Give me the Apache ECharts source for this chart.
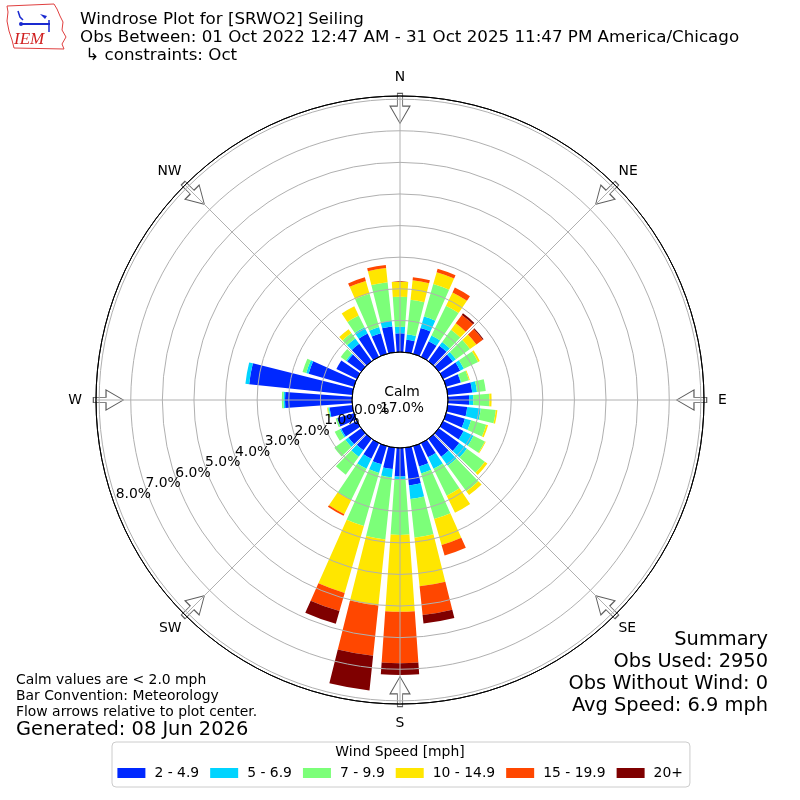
<!DOCTYPE html>
<html>
<head>
<meta charset="utf-8">
<script src="https://cdn.jsdelivr.net/npm/echarts@6/dist/echarts.min.js"></script>
<style>
html,body{margin:0;padding:0;background:#fff;}
#chart{width:800px;height:800px;}
</style>
</head>
<body>
<div id="chart"></div>
<script>
// Directions (degrees, meteorological convention)
var directions = [0,10,20,30,40,50,60,70,80,90,100,110,120,130,140,150,160,170,180,190,200,210,220,230,240,250,260,270,280,290,300,310,320,330,340,350];
// Speed bins and colours
var speedBins = ['2 - 4.9','5 - 6.9','7 - 9.9','10 - 14.9','15 - 19.9','20+'];
var binColors = ['#0028ff','#00d4ff','#7cff79','#ffe600','#ff4700','#7f0000'];
// Frequencies (%) per direction for each speed bin
var bin2to5 = [0.59,0.40,0.85,0.55,0.60,0.55,0.60,0.48,0.78,0.67,0.62,0.62,0.72,0.80,0.70,0.50,0.67,1.20,0.90,0.68,0.60,0.55,0.45,0.50,0.55,0.55,0.72,2.12,3.28,1.49,0.72,0.55,0.68,0.82,0.68,0.82];
var bin5to7 = [0.21,0.17,0.38,0.20,0.15,0.12,0.13,0.02,0.15,0.13,0.43,0.20,0.35,0.30,0.35,0.40,0.23,0.43,0.10,0.26,0.28,0.35,0.25,0.12,0.05,0.00,0.03,0.05,0.12,0.08,0.00,0.05,0.21,0.22,0.20,0.18];
var bin7to10 = [0.95,1.10,1.07,1.05,0.48,0.55,0.50,0.25,0.28,0.51,0.48,0.50,0.40,0.70,1.00,0.95,1.50,1.23,1.75,1.98,1.75,1.10,0.70,0.43,0.18,0.05,0.03,0.05,0.00,0.12,0.00,0.20,0.21,0.42,1.10,1.23];
var bin10to15 = [0.47,0.62,0.39,0.47,0.25,0.25,0.06,0.03,0.00,0.07,0.05,0.06,0.03,0.10,0.15,0.60,0.85,1.55,2.43,2.10,2.20,0.50,0.00,0.00,0.00,0.00,0.02,0.00,0.00,0.00,0.00,0.00,0.15,0.32,0.42,0.45];
var bin15to20 = [0.00,0.10,0.11,0.17,0.33,0.25,0.00,0.00,0.00,0.00,0.00,0.00,0.00,0.00,0.00,0.00,0.35,0.91,1.63,1.60,0.60,0.06,0.00,0.00,0.00,0.00,0.00,0.00,0.00,0.00,0.00,0.00,0.00,0.00,0.12,0.10];
var bin20plus = [0,0,0,0,0.06,0.03,0,0,0,0,0,0,0,0,0,0,0,0.27,0.37,1.10,0.42,0,0,0,0,0,0,0,0,0,0,0,0,0,0,0];
var binData = [bin2to5, bin5to7, bin7to10, bin10to15, bin15to20, bin20plus];
// Axis tick labels
var compassLabels = ['N','NE','E','SE','S','SW','W','NW'];
var compassRich = ['n','dn','e','ds','s','ds','w','dn'];
var compassAngles = [0,45,90,135,180,225,270,315];
var radialMax = 8.1;
var calmPct = '17.0%';

var chart = echarts.init(document.getElementById('chart'), null, {renderer:'canvas'});
var FONT = 'DejaVu Sans';
var GRID = '#b0b0b0';
var TICKFS = 13.9;
var PX_PER_PCT = 256 / radialMax;

var series = speedBins.map(function(name, i){
  return {
    type:'bar', name:name, coordinateSystem:'polar', polarIndex:0,
    stack:'wind', data:binData[i], barCategoryGap:'20%',
    itemStyle:{color:binColors[i]}, z:2, silent:true
  };
});
var arrowPath = 'path://M7.35 0 L12.65 0 L12.65 12.7 L20 12.7 L10 30 L0 12.7 L7.35 12.7 Z';
series.push({
  type:'scatter', coordinateSystem:'polar', polarIndex:1, z:3, silent:true,
  data: compassAngles.map(function(a){ return [7.71, a]; }),
  symbol: arrowPath, symbolSize:[20,30],
  symbolRotate: function(v){ return -v[1]; },
  itemStyle:{color:'#ffffff', borderColor:'#333333', borderWidth:1}
});

var ringColors = ['#000000'];
for (var k=0;k<8;k++) ringColors.push(GRID);
ringColors.push('#000000');

var richBase = {fontFamily:FONT, fontSize:TICKFS, color:'#000'};
function rich(extra){ var o = {}; for (var key in richBase) o[key]=richBase[key]; for (var key2 in extra) o[key2]=extra[key2]; return o; }
function pctLabel(v){ return v>8.05 ? '' : v.toFixed(1)+'%'; }
var ringLabelCommon = {show:true, margin:0, align:'center', verticalAlign:'middle', hideOverlap:false,
  showMinLabel:true, showMaxLabel:false, fontFamily:FONT, fontSize:TICKFS, color:'#000', formatter:pctLabel};
var hiddenAngle = {type:'value', min:0, max:360, startAngle:199.5, show:false,
  axisLine:{show:false}, axisTick:{show:false}, axisLabel:{show:false}, splitLine:{show:false}};
function withIndex(base, idx){ var o={}; for (var a in base) o[a]=base[a]; o.polarIndex=idx; return o; }

var option = {
  animation:false,
  backgroundColor:'#ffffff',
  polar:[
    {center:[400,400], radius:[48,304]},
    {center:[400,400], radius:[48,304]},
    {center:[400,400], radius:[30, 286]},
    {center:[400,400], radius:[30 + PX_PER_PCT, 286]}
  ],
  angleAxis:[
    {polarIndex:0, type:'category', data:directions, startAngle:95, clockwise:true,
     axisLine:{show:false}, axisTick:{show:false}, axisLabel:{show:false}, splitLine:{show:false}},
    {polarIndex:1, type:'value', min:0, max:360, interval:45, startAngle:90, clockwise:true, z:10,
     axisLine:{show:true, lineStyle:{color:'#000', width:1}},
     axisTick:{show:false},
     splitLine:{show:true, lineStyle:{color:GRID, width:1}},
     axisLabel:{show:true, margin:5,
       fontFamily:FONT, fontSize:TICKFS, color:'#000',
       rich:{
         n: rich({padding:[0,0,7,0]}),
         s: rich({padding:[7,0,0,0]}),
         e: rich({padding:[0,0,0,9]}),
         w: rich({padding:[0,9,0,0]}),
         dn: rich({padding:[0,0,3,0]}),
         ds: rich({padding:[3,0,0,0]})
       },
       formatter:function(v){ var i = Math.round(v/45); return i<8 ? '{' + compassRich[i] + '|' + compassLabels[i] + '}' : ''; }}},
    withIndex(hiddenAngle, 2),
    withIndex(hiddenAngle, 3)
  ],
  radiusAxis:[
    {polarIndex:0, type:'value', min:0, max:radialMax, show:false,
     axisLine:{show:false}, axisTick:{show:false}, axisLabel:{show:false}, splitLine:{show:false}},
    {polarIndex:1, type:'value', min:0, max:radialMax, interval:1, z:10,
     axisLine:{show:false}, axisTick:{show:false}, axisLabel:{show:false},
     splitLine:{show:true, lineStyle:{color:ringColors, width:1}}},
    // even ring labels 0,2,4,6,8
    {polarIndex:2, type:'value', min:0, max:radialMax, interval:2, z:11,
     axisLine:{show:false}, axisTick:{show:false}, splitLine:{show:false},
     axisLabel:ringLabelCommon},
    // odd ring labels 1,3,5,7
    {polarIndex:3, type:'value', min:1, max:radialMax, interval:2, z:11,
     axisLine:{show:false}, axisTick:{show:false}, splitLine:{show:false},
     axisLabel:ringLabelCommon}
  ],
  legend:{
    left:112, top:742, orient:'horizontal', icon:'rect',
    itemWidth:28, itemHeight:10, itemGap:11,
    padding:[24,7,7,5.4],
    borderColor:'#cccccc', borderWidth:1, borderRadius:4,
    selectedMode:false,
    textStyle:{fontFamily:FONT, fontSize:13.9, color:'#000', padding:[0,0,0,4]},
    data:speedBins
  },
  graphic:[
    {type:'text', x:400, y:752, z:20, style:{text:'Wind Speed [mph]', fontFamily:FONT, fontSize:13.9, fill:'#000', textAlign:'center', textVerticalAlign:'middle'}},
    {type:'text', x:402, y:392, z:20, style:{text:'Calm', fontFamily:FONT, fontSize:TICKFS, fill:'#000', textAlign:'center', textVerticalAlign:'middle'}},
    {type:'text', x:402, y:408, z:20, style:{text:calmPct, fontFamily:FONT, fontSize:TICKFS, fill:'#000', textAlign:'center', textVerticalAlign:'middle'}},
    {type:'text', x:80, y:20, style:{text:'Windrose Plot for [SRWO2] Seiling', fontFamily:FONT, fontSize:16.7, fill:'#000', textVerticalAlign:'middle'}},
    {type:'text', x:80, y:38, style:{text:'Obs Between: 01 Oct 2022 12:47 AM - 31 Oct 2025 11:47 PM America/Chicago', fontFamily:FONT, fontSize:16.7, fill:'#000', textVerticalAlign:'middle'}},
    {type:'text', x:80, y:56, style:{text:' \u21b3 constraints: Oct', fontFamily:FONT, fontSize:16.7, fill:'#000', textVerticalAlign:'middle'}},
    {type:'text', x:16, y:680, style:{text:'Calm values are < 2.0 mph', fontFamily:FONT, fontSize:13.9, fill:'#000', textVerticalAlign:'middle'}},
    {type:'text', x:16, y:696, style:{text:'Bar Convention: Meteorology', fontFamily:FONT, fontSize:13.9, fill:'#000', textVerticalAlign:'middle'}},
    {type:'text', x:16, y:712, style:{text:'Flow arrows relative to plot center.', fontFamily:FONT, fontSize:13.9, fill:'#000', textVerticalAlign:'middle'}},
    {type:'text', x:16, y:730, style:{text:'Generated: 08 Jun 2026', fontFamily:FONT, fontSize:19.4, fill:'#000', textVerticalAlign:'middle'}},
    {type:'text', x:768, y:640, style:{text:'Summary', fontFamily:FONT, fontSize:19.4, fill:'#000', textAlign:'right', textVerticalAlign:'middle'}},
    {type:'text', x:768, y:662, style:{text:'Obs Used: 2950', fontFamily:FONT, fontSize:19.4, fill:'#000', textAlign:'right', textVerticalAlign:'middle'}},
    {type:'text', x:768, y:684, style:{text:'Obs Without Wind: 0', fontFamily:FONT, fontSize:19.4, fill:'#000', textAlign:'right', textVerticalAlign:'middle'}},
    {type:'text', x:768, y:706, style:{text:'Avg Speed: 6.9 mph', fontFamily:FONT, fontSize:19.4, fill:'#000', textAlign:'right', textVerticalAlign:'middle'}},
    // IEM logo (approximation)
    {type:'polygon', shape:{points:[[7,6],[54,4],[57,9],[60,16],[63,22],[62,30],[66,37],[62,44],[64,49],[14,48],[12,40],[9,31],[7,21],[8,12]]},
     style:{fill:'none', stroke:'#e04040', lineWidth:1}},
    {type:'line', shape:{x1:22, y1:24, x2:50, y2:24}, style:{stroke:'#1a2ad0', lineWidth:2}},
    {type:'polyline', shape:{points:[[18,11],[20,17],[23,20]]}, style:{fill:'none', stroke:'#1a2ad0', lineWidth:1.5}},
    {type:'polygon', shape:{points:[[40,14],[47,16],[45,19]]}, style:{fill:'#1a2ad0'}},
    {type:'line', shape:{x1:49, y1:20, x2:49, y2:32}, style:{stroke:'#1a2ad0', lineWidth:1.5}},
    {type:'circle', shape:{cx:21, cy:24, r:2}, style:{fill:'#1a2ad0'}},
    {type:'text', x:14, y:40, style:{text:'IEM', fontFamily:'Liberation Serif', fontStyle:'italic', fontSize:17, fill:'#d02020', textVerticalAlign:'middle'}}
  ],
  series:series
};
chart.setOption(option);
</script>
</body>
</html>
